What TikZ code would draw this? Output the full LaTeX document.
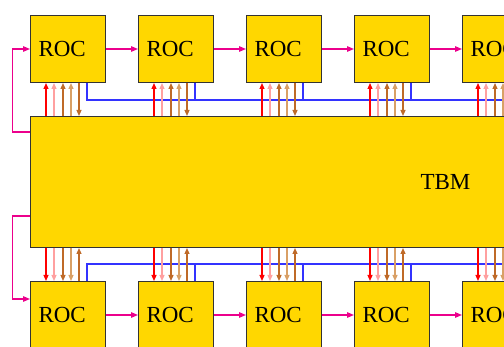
\documentclass[tikz,border=0pt]{standalone}
\usepackage{fontspec}
\setmainfont{Liberation Serif}
\usetikzlibrary{arrows.meta,positioning}
\definecolor{rocgold}{HTML}{FFD700}
\definecolor{rocpink}{HTML}{FFA0A0}
\definecolor{rocbrown}{HTML}{BF6A28}
\definecolor{roctan}{HTML}{D9A066}
\definecolor{rocblue}{HTML}{3333FF}
\tikzset{
  chip/.style={draw=black!80, fill=rocgold, line width=1pt, font=\fontsize{23}{25}\selectfont},
  roc/.style={chip, text width=59pt, align=left, inner xsep=8pt, inner ysep=0pt, minimum height=67pt},
  tbmbox/.style={chip, minimum width=830pt, minimum height=131pt},
  sig/.style={-{Triangle[length=6pt,width=5pt]}, line width=1.2pt},
  tok/.style={-{Triangle[length=7pt,width=5.5pt]}, line width=1.2pt, color=magenta},
  bus/.style={line width=1.2pt, color=rocblue},
}
\begin{document}
\begin{tikzpicture}[x=1pt, y=-1pt]
  \useasboundingbox (0,0) rectangle (504,347);
  \clip (0,0) rectangle (504,347);
  % top row of readout chips
  \node[roc, anchor=north west] (t1) at (30,15) {ROC};
  \foreach \i [evaluate=\i as \j using int(\i-1)] in {2,...,5}
    \node[roc, right=32pt of t\j] (t\i) {ROC};
  \node[tbmbox, below=33pt of t1.south west, anchor=north west] (tbm) {TBM};
  % bottom row
  \node[roc, below=33pt of tbm.south west, anchor=north west] (b1) {ROC};
  \foreach \i [evaluate=\i as \j using int(\i-1)] in {2,...,5}
    \node[roc, right=32pt of b\j] (b\i) {ROC};
  % token chain
  \draw[tok] ([yshift=-16pt]tbm.north west) -- ++(-17.5,0) |- (t1.west);
  \draw[tok] ([yshift=32pt]tbm.south west) -- ++(-17.5,0) |- ([yshift=16pt]b1.west);
  \foreach \i [evaluate=\i as \j using int(\i+1)] in {1,...,4}{
    \draw[tok] (t\i.east) -- (t\j.west);
    \draw[tok] (b\i.east) -- (b\j.west);
  }
  % signals between TBM and ROCs
  \foreach \i in {1,...,5}{
    \foreach \dx/\col in {16/red, 24/rocpink, 33/rocbrown, 41/roctan}{
      \draw[sig, \col] ([xshift=\dx pt]t\i.south west |- tbm.north) -- ([xshift=\dx pt]t\i.south west);
      \draw[sig, \col] ([xshift=\dx pt]b\i.north west |- tbm.south) -- ([xshift=\dx pt]b\i.north west);
    }
    \draw[sig, rocbrown] ([xshift=49pt]t\i.south west) -- ([xshift=49pt]t\i.south west |- tbm.north);
    \draw[sig, rocbrown] ([xshift=49pt]b\i.north west) -- ([xshift=49pt]b\i.north west |- tbm.south);
    \draw[bus] ([xshift=57pt]t\i.south west) |- ([yshift=-17pt]t\i.south -| tbm.east);
    \draw[bus] ([xshift=57pt]b\i.north west) |- ([yshift=17pt]b\i.north -| tbm.east);
  }
\end{tikzpicture}
\end{document}
